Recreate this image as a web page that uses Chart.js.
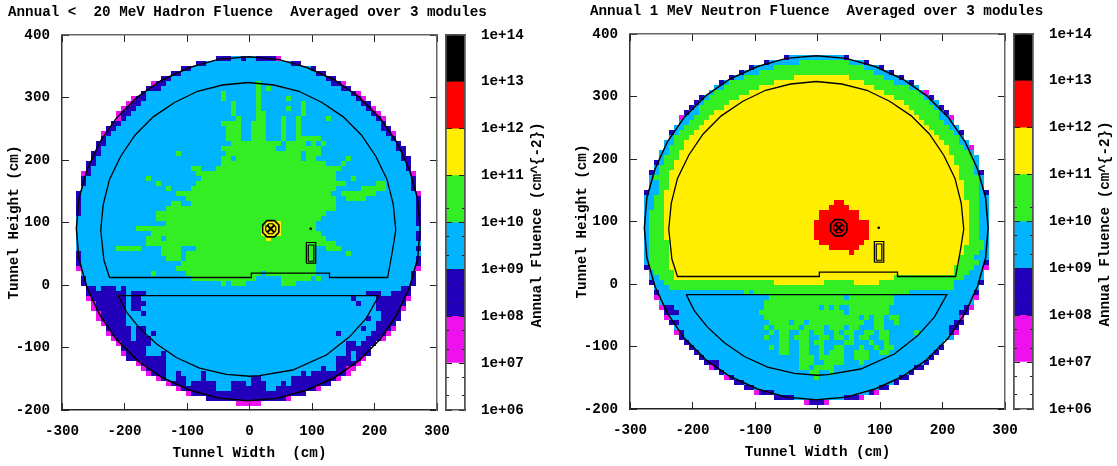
<!DOCTYPE html>
<html>
<head>
<meta charset="utf-8">
<title>Annual Fluence</title>
<script src="https://cdn.jsdelivr.net/npm/chart.js@4/dist/chart.umd.min.js"></script>
<style>
  html, body { margin: 0; padding: 0; background: #fff; overflow: hidden; }
  canvas { position: absolute; }
</style>
</head>
<body>
<canvas id="hadronMap" width="560" height="466" style="left:0;top:0"></canvas>
<canvas id="hadronBar" width="109" height="466" style="left:440px;top:0"></canvas>
<canvas id="neutronMap" width="549" height="466" style="left:568px;top:-1px"></canvas>
<canvas id="neutronBar" width="109" height="466" style="left:1008px;top:-1px"></canvas>
<script>
const hadronTitle = 'Annual <  20 MeV Hadron Fluence  Averaged over 3 modules';
const neutronTitle = 'Annual 1 MeV Neutron Fluence  Averaged over 3 modules';
const yTitle = 'Tunnel Height (cm)';
const hadronXTitle = 'Tunnel Width  (cm)';
const neutronXTitle = 'Tunnel Width (cm)';
const barTitle = 'Annual Fluence (cm^{-2})';

const xTicks = [-300, -200, -100, 0, 100, 200, 300];
const yTicks = [-200, -100, 0, 100, 200, 300, 400];

// colour bar: one code per decade, bottom to top
const bandCodes = ['w', 'm', 'b', 'c', 'g', 'y', 'r', 'k'];
const bandEdges = [1e6, 1e7, 1e8, 1e9, 1e10, 1e11, 1e12, 1e13, 1e14];
const bandColors = ['#ffffff', '#ee11ee', '#2200bb', '#00b4ff', '#33ee22', '#ffee00', '#ff0000', '#000000'];
const barLabels = ['1e+06', '1e+07', '1e+08', '1e+09', '1e+10', '1e+11', '1e+12', '1e+13', '1e+14'];
const barMinor = [2e6, 5e6, 2e7, 5e7, 2e8, 5e8, 2e9, 5e9, 2e10, 5e10, 2e11, 5e11, 2e12, 5e12, 2e13, 5e13];

// one line per 8 cm row, top to bottom: "<first column><band code>" at each change, "." ends the row
const hadronRows = [
  '28b 31c 33b 34c 36b 40m 41.',
  '24b 26c 43b 45.',
  '21b 23c 47b 48.',
  '19b 21c 48b 50.',
  '17b 19c 50b 52.',
  '15m 16b 18c 36g 37c 51b 53m 54.',
  '14b 17c 36g 37c 38g 39c 53b 55.',
  '13b 14c 29g 30c 36g 37c 55b 56m 57.',
  '11m 12b 14c 29g 30c 36g 37c 42g 43c 56b 57m 58.',
  '10m 11b 13c 31g 32c 36g 37c 45g 46c 57b 59.',
  '9m 10b 12c 31g 32c 36g 37c 42g 43c 45g 46c 58b 59m 60.',
  '8m 9b 11c 31g 32c 36g 38c 45g 46c 59b 60m 61.',
  '8m 9b 10c 32g 33c 36g 38c 41g 42c 44g 45c 50g 51c 60b 61m 62.',
  '7b 9c 29g 33c 35g 38c 41g 42c 44g 45c 61b 62.',
  '6b 8c 30g 33c 35g 38c 41g 42c 44g 45c 61b 63.',
  '5m 6b 7c 30g 33c 35g 38c 41g 42c 44g 45c 62b 63m 64.',
  '5b 6c 30g 33c 35g 38c 41g 42c 44g 49c 63b 64.',
  '4b 6c 31g 41c 42g 46c 47g 48c 49g 50c 64b 65.',
  '4b 5c 29g 40c 42g 49c 64b 66.',
  '3b 5c 20g 21c 30g 45c 46g 49c 65b 66.',
  '3b 4c 29g 31c 32g 45c 46g 48c 54g 55c 65b 67.',
  '2b 4c 29g 50c 53g 54c 66b 67.',
  '2b 3c 23g 25c 28g 53c 66b 67.',
  '1m 2b 3c 24g 52c 67m 68.',
  '1b 2c 14g 15c 25g 52c 55g 56c 67b 68.',
  '1b 2c 16g 17c 24g 54c 60g 62c 67b 68.',
  '1c 18g 19c 23g 52c 57g 62c 67b 68.',
  '0b 1c 20g 51c 53g 60c 68m 69.',
  '0b 1c 22g 52c 54g 58c 68b 69.',
  '0b 1c 19g 21c 23g 52c 68b 69.',
  '0b 1c 18g 52c 68b 69.',
  '0b 1c 16g 50c 68b 69.',
  '0c 16g 49c 68b 69.',
  '0c 18g 38y 41g 48c 68b 69.',
  '0c 12g 37y 41g 48c 69.',
  '0c 15g 37y 41g 49c 68b 69.',
  '0c 14g 17c 18g 38y 39g 50c 68b 69.',
  '0c 14g 52c 69.',
  '0c 8g 13c 17g 21c 24g 48c 50g 53c 68b 69.',
  '0b 1c 17g 21c 22g 48c 54g 55c 69.',
  '0b 1c 18g 21c 22g 48c 68b 69.',
  '0b 1c 21g 48c 68b 69.',
  '0m 1c 20g 48c 68m 69.',
  '1c 15g 16c 22g 37c 38g 48c 67b 68.',
  '1b 2c 23g 36c 41g 47c 48g 49c 67b 68.',
  '1b 2c 29g 30c 31g 34c 41g 44c 67b 68.',
  '2b 4c 5b 8c 9b 10c 65b 67.',
  '2b 10c 11b 14c 58b 61c 63b 67.',
  '2m 3b 10c 11b 13c 55b 56c 60b 66m 67.',
  '3m 4b 10c 11b 14c 56b 57c 60b 66.',
  '3m 4b 10c 11b 13c 60b 65m 66.',
  '4m 5b 10c 13b 14c 61b 65.',
  '4m 5b 10c 58b 59c 61b 65.',
  '5m 6b 10c 60b 64.',
  '6b 11c 12b 14c 57b 58c 60b 63m 64.',
  '6m 7b 11c 12b 14c 15b 16c 52b 53c 59b 62m 63.',
  '7m 8b 11c 12b 15c 58b 61m 62.',
  '8m 9b 15c 54b 56c 57b 60.',
  '9b 14c 54b 59.',
  '9m 10b 14c 17b 18c 54b 55c 56b 59.',
  '10b 18c 52b 55c 56b 57m 58.',
  '12m 13b 18c 52b 56m 57.',
  '13m 14b 18c 49b 50c 52b 54m 56.',
  '14m 15b 18c 20b 21c 25b 26c 45b 46c 47b 54m 55.',
  '16m 17b 18c 20b 22c 25b 26c 35b 37c 43b 52m 53.',
  '18m 19b 22c 23b 28c 31b 34c 35b 38c 41b 42c 43b 51.',
  '20m 21b 28c 31b 38c 40b 48m 49.',
  '22m 23b 46.',
  '26b 42m 43.',
  '32m 37.'
];

const neutronRows = [
  '28b 29c 40b 41.',
  '24b 25c 31g 41c 44b 45.',
  '21b 22c 26g 44c 47b 48.',
  '19b 20c 23g 46c 49b 50.',
  '17b 18c 20g 30y 41g 48c 51b 52.',
  '15b 16c 17g 26y 44g 50c 53b 54.',
  '14c 16g 23y 46g 53c 55.',
  '13c 14g 21y 48g 55c 56m 57.',
  '11b 12c 13g 19y 50g 56c 57b 58.',
  '10b 11c 12g 17y 52g 57c 59.',
  '9b 10c 11g 16y 53g 58c 59b 60.',
  '8b 9c 11g 14y 54g 59c 60b 61.',
  '7m 8c 10g 13y 55g 59c 61m 62.',
  '7c 9g 12y 56g 60c 62.',
  '6c 8g 11y 57g 61c 63.',
  '5b 6c 7g 10y 58g 62c 63b 64.',
  '5c 6g 9y 59g 63c 64.',
  '4c 6g 8y 60g 63c 65.',
  '4c 5g 8y 61g 64c 65m 66.',
  '3c 5g 7y 61g 65c 66.',
  '3c 4g 7y 62g 66c 67.',
  '2b 3c 4g 6y 62g 66c 67.',
  '2c 3g 6y 63g 66c 67.',
  '1b 2c 3g 5y 63g 66c 67b 68.',
  '1c 2g 5y 63g 67c 68.',
  '1c 3g 5y 64g 67c 68.',
  '1c 3g 5y 64g 67c 68.',
  '0b 1c 3g 4y 64g 67c 68b 69.',
  '0c 2g 4y 64g 67c 69.',
  '0c 2g 4y 38r 40y 65g 67c 69.',
  '0c 2g 4y 37r 41y 65g 67c 69.',
  '0c 1g 4y 35r 43y 65g 67c 69.',
  '0c 1g 4y 35r 43y 65g 67c 69.',
  '0c 1g 4y 34r 45y 65g 67c 69.',
  '0c 1g 4y 34r 45y 65g 67c 69.',
  '0c 1g 4y 34r 45y 65g 67c 69.',
  '0c 1g 4y 34r 45y 65g 67c 69.',
  '0c 1g 5y 35r 44y 65g 68c 69.',
  '0c 1g 5y 37r 43y 64g 68c 69.',
  '0c 1g 5y 41r 42y 64g 67c 69.',
  '0c 1g 5y 63g 66c 69.',
  '0c 1g 5y 63g 67c 68b 69.',
  '0b 1g 5y 62g 66c 68m 69.',
  '1c 2g 6y 62g 65c 68.',
  '1c 3g 6y 50g 64c 68.',
  '1b 2c 4g 26y 36g 42y 47g 62c 67b 68.',
  '2c 5g 62c 67.',
  '2b 3c 20g 21c 22g 53c 66b 67.',
  '2m 3c 25g 40c 41g 50c 66m 67.',
  '3c 24g 50c 66.',
  '3m 4b 6c 24g 35c 36g 37c 38g 39c 41g 49c 64b 65m 66.',
  '4b 7c 23g 40c 41g 49c 63b 65.',
  '4m 5c 24g 43c 44g 45c 46g 48c 49g 51c 63m 64.',
  '5b 7c 25g 29c 30g 32c 33g 44c 46g 48c 50g 51c 62b 64.',
  '6c 24g 25c 26g 31c 32g 36c 37g 40c 41g 43c 46g 48c 61b 63.',
  '6m 7b 8c 25g 26c 27g 29c 31g 33c 34g 36c 38g 39c 40g 42c 44g 46c 47g 49c 54g 55c 61b 62m 63.',
  '7b 8c 24g 25c 27g 29c 30g 33c 35g 37c 38g 40c 41g 42c 43g 45c 47g 49c 62.',
  '8b 9c 27g 29c 31g 33c 34g 36c 40g 42c 45g 46c 48g 49c 60.',
  '9b 10c 25g 26c 27g 29c 31g 33c 35g 36c 38g 40c 43g 44c 46g 47c 48g 50c 59b 60.',
  '10b 11c 27g 29c 31g 33c 35g 36c 37g 40c 42g 45c 47g 49c 58b 59.',
  '11b 12c 31g 34c 35g 40c 42g 45c 57b 58.',
  '12b 15c 31g 34c 36g 40c 43g 44c 56b 57.',
  '13m 14b 15c 31g 33c 34g 38c 54b 56.',
  '15b 16c 33g 35c 37g 38c 53b 54.',
  '16m 17b 18c 34g 35c 51b 53.',
  '18b 20c 50b 51.',
  '20b 22c 47b 49.',
  '22m 23b 26c 45b 46m 47.',
  '26b 30c 40b 43m 44.',
  '32m 33b 36m 37.'
];

// detector outlines in cm, same in both panels
const outerWall = [[273,90],[269,138],[256,184],[236,228],[209,267],[175,301],[136,328],[92,348],[46,361],[-2,365],
  [-50,361],[-96,348],[-140,328],[-179,301],[-213,267],[-240,228],[-260,184],[-273,138],[-277,90],[-273,42],
  [-260,-4],[-240,-47],[-213,-87],[-179,-121],[-140,-148],[-96,-168],[-50,-181],[-2,-185],[46,-181],[92,-168],
  [136,-148],[175,-121],[209,-87],[236,-47],[256,-4],[269,42],[273,90]];
const innerArch = [[234,88],[230,129],[220,169],[202,206],[179,240],[150,269],[116,292],[79,310],[39,320],[-2,324],
  [-43,320],[-83,310],[-120,292],[-154,269],[-183,240],[-206,206],[-224,169],[-234,129],[-238,88],[-233,40],
  [-224,12],[3,12],[3,19],[128,19],[128,12],[221,12],[229,56],[234,88]];
const floorArc = [[-210,-17],[-197,-43],[-176,-69],[-149,-94],[-117,-116],[-80,-133],[-37,-143],[0,-146],[16,-145],
  [69,-136],[123,-112],[160,-83],[187,-53],[207,-17],[-210,-17]];
const moduleOuter = [[91,35],[106,35],[106,68],[91,68],[91,35]];
const moduleInner = [[94,38],[103,38],[103,64],[94,64],[94,38]];
const beamOuter = [[47,84],[47,96],[40,103],[28,103],[21,96],[21,84],[28,77],[40,77],[47,84]];
const beamInner = [[42,87],[42,93],[37,98],[31,98],[26,93],[26,87],[31,82],[37,82],[42,87]];
const beamCross1 = [[28,84],[40,96]];
const beamCross2 = [[28,96],[40,84]];
const sensorDot = [[98,90]];

const monoFont = { family: '"Liberation Mono", monospace', size: 14.25, weight: 'bold', lineHeight: '17px' };

function cellsFor(rows, code) {
  const cells = [];
  rows.forEach(function (row, j) {
    const parts = row.split(' ');
    for (let p = 0; p < parts.length - 1; p++) {
      if (parts[p].slice(-1) !== code) continue;
      const from = parseInt(parts[p]);
      const to = parseInt(parts[p + 1]);
      for (let i = from; i < to; i++) {
        cells.push({ x: -273.6 + 8 * i, y: 362.4 - 8 * j });
      }
    }
  });
  return cells;
}

function outline(points, width) {
  return {
    data: points.map(function (p) { return { x: p[0], y: p[1] }; }),
    showLine: true,
    pointRadius: 0,
    borderColor: '#000',
    borderWidth: width,
    order: 1
  };
}

function setTicks(values) {
  return function (scale) {
    scale.ticks = values.map(function (v) { return { value: v }; });
  };
}

function fixSize(prop, size) {
  return function (scale) { scale[prop] = size; };
}

function mainAxis(position, values, size, color, showLabels, extra) {
  const horizontal = position === 'top' || position === 'bottom';
  const range = horizontal ? { min: -300, max: 300 } : { min: -200, max: 400 };
  return Object.assign({
    type: 'linear',
    position: position,
    min: range.min,
    max: range.max,
    afterBuildTicks: setTicks(values),
    afterFit: fixSize(horizontal ? 'height' : 'width', size),
    border: { color: color, width: 1.5, z: 2 },
    grid: { drawOnChartArea: false, tickLength: -7, tickColor: '#222', tickWidth: 1, z: 1 },
    ticks: {
      display: showLabels,
      autoSkip: false,
      maxRotation: 0,
      color: '#000',
      font: monoFont,
      padding: horizontal ? 19.5 : 19
    }
  }, extra || {});
}

function drawMap(id, rows, title, xTitle, titleLeft, padRight) {
  const datasets = [];
  bandCodes.forEach(function (code, n) {
    const cells = cellsFor(rows, code);
    if (!cells.length) return;
    datasets.push({
      data: cells,
      pointStyle: 'rect',
      pointRadius: 3.55,
      pointBorderWidth: 0,
      backgroundColor: bandColors[n],
      order: 2
    });
  });
  datasets.push(outline(outerWall, 1.5));
  datasets.push(outline(innerArch, 1.3));
  datasets.push(outline(floorArc, 1.3));
  datasets.push(outline(moduleOuter, 1.2));
  datasets.push(outline(moduleInner, 1.2));
  datasets.push(outline(beamOuter, 1.6));
  datasets.push(outline(beamInner, 1.2));
  datasets.push(outline(beamCross1, 2));
  datasets.push(outline(beamCross2, 2));
  datasets.push({
    data: sensorDot.map(function (p) { return { x: p[0], y: p[1] }; }),
    pointStyle: 'circle',
    pointRadius: 1.3,
    backgroundColor: '#000',
    order: 1
  });

  // the title starts left of the plot and runs past its right edge
  const titleSpan = {
    id: 'titleSpan',
    afterLayout: function (chart) {
      chart.titleBlock.left = titleLeft;
      chart.titleBlock.right = chart.width;
    }
  };

  new Chart(document.getElementById(id), {
    type: 'scatter',
    data: { datasets: datasets },
    options: {
      responsive: false,
      animation: false,
      events: [],
      layout: { autoPadding: false, padding: { left: 0, right: padRight, top: 0, bottom: 0 } },
      plugins: {
        legend: { display: false },
        tooltip: { enabled: false },
        title: {
          display: true,
          text: title,
          align: 'start',
          color: '#000',
          font: monoFont,
          padding: { top: 4, bottom: 0 }
        }
      },
      scales: {
        x: mainAxis('bottom', xTicks, 56, '#222', true, {
          title: { display: true, text: xTitle, color: '#000', font: monoFont, padding: { top: 0, bottom: 4.2 } }
        }),
        y: mainAxis('left', yTicks, 62, '#333', true, {
          title: { display: true, text: yTitle, color: '#000', font: monoFont, padding: { top: 6.2, bottom: 0 } }
        }),
        xTop: mainAxis('top', xTicks, 14, '#666', false),
        yRight: mainAxis('right', yTicks, 0, '#666', false)
      }
    },
    plugins: [titleSpan]
  });
}

function barAxis(position, tickLength, values, width, weight, showLabels) {
  return {
    type: 'logarithmic',
    position: position,
    weight: weight,
    min: bandEdges[0],
    max: bandEdges[bandEdges.length - 1],
    afterBuildTicks: setTicks(values),
    afterFit: fixSize('width', width),
    border: { color: '#555', width: 1.5, z: 2 },
    grid: { drawOnChartArea: false, tickLength: tickLength, tickColor: '#222', tickWidth: 1, z: 1 },
    ticks: {
      display: showLabels,
      autoSkip: false,
      maxRotation: 0,
      color: '#000',
      font: monoFont,
      padding: 22,
      callback: function (value, index) { return barLabels[index]; }
    }
  };
}

function edgeAxis(position) {
  return {
    type: 'category',
    position: position,
    afterFit: fixSize('height', 0),
    border: { color: '#555', width: 1.5, z: 2 },
    grid: { display: false, drawTicks: false, z: 1 },
    ticks: { display: false }
  };
}

function drawBar(id) {
  const sideLabel = {
    id: 'sideLabel',
    afterDraw: function (chart) {
      const ctx = chart.ctx;
      ctx.save();
      ctx.translate(97, 225);
      ctx.rotate(-Math.PI / 2);
      ctx.font = 'bold 14.25px "Liberation Mono", monospace';
      ctx.fillStyle = '#000';
      ctx.textAlign = 'center';
      ctx.textBaseline = 'middle';
      ctx.fillText(barTitle, 0, 0);
      ctx.restore();
    }
  };
  new Chart(document.getElementById(id), {
    type: 'bar',
    data: {
      labels: [''],
      datasets: bandCodes.map(function (code, n) {
        return {
          label: code,
          data: [[bandEdges[n], bandEdges[n + 1]]],
          backgroundColor: bandColors[n],
          grouped: false,
          barPercentage: 1,
          categoryPercentage: 1,
          borderWidth: 0,
          yAxisID: 'y'
        };
      })
    },
    options: {
      responsive: false,
      animation: false,
      events: [],
      layout: { autoPadding: false, padding: { left: 6, right: 0, top: 35, bottom: 56 } },
      plugins: { legend: { display: false }, tooltip: { enabled: false } },
      scales: {
        x: edgeAxis('bottom'),
        xTop: edgeAxis('top'),
        y: barAxis('right', -6, bandEdges, 84, 1, true),
        yLeft: barAxis('left', -6, bandEdges, 0, 0, false),
        yMinorRight: barAxis('right', -3, barMinor, 0, 0, false),
        yMinorLeft: barAxis('left', -3, barMinor, 0, 0, false)
      }
    },
    plugins: [sideLabel]
  });
}

drawMap('hadronMap', hadronRows, hadronTitle, hadronXTitle, 8, 123);
drawBar('hadronBar');
drawMap('neutronMap', neutronRows, neutronTitle, neutronXTitle, 22, 112);
drawBar('neutronBar');
</script>
</body>
</html>
